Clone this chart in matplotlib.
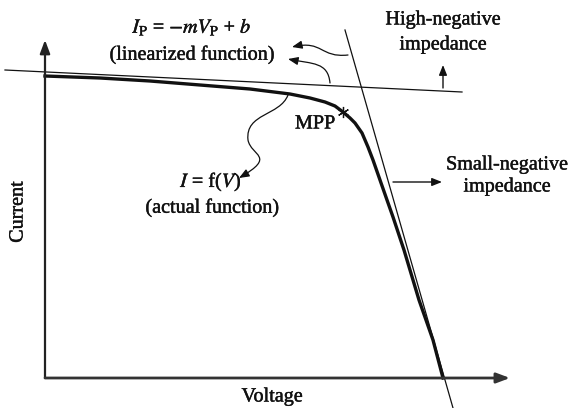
import matplotlib.pyplot as plt
import matplotlib.patheffects as pe
from matplotlib.patches import FancyArrowPatch
from matplotlib.path import Path

# I-V curve of the panel (arbitrary units, origin at the axes corner)
voltage = [0, 55, 105, 155, 205, 245, 265, 280, 290, 298, 305, 310,
           317, 323, 328, 335, 342, 348, 359, 374, 388, 398]
current = [302, 300, 297, 293, 289, 284, 280, 276, 272, 266, 260, 255,
           245, 231, 218, 198, 178, 161, 128, 78, 38, 0]

# maximum power point
mpp_v, mpp_i = 298, 266

# linearised lines: flat (high-negative) and steep (small-negative) regions
flat_v = [-40, 417]
flat_i = [308, 286]
steep_v = [300, 408]
steep_i = [348, -30]

plt.rcParams["font.family"] = ["Liberation Serif", "DejaVu Serif"]
plt.rcParams["mathtext.fontset"] = "stix"

fig = plt.figure(figsize=(5.72, 4.08), dpi=100)
ax = fig.add_axes([0, 0, 1, 1])
ax.set_xlim(-45, 527)
ax.set_ylim(-30, 378)
ax.axis("off")

ink = "#111111"
head = "-|>,head_length=0.5,head_width=0.2"

# axes with arrow heads
ax.annotate("", xy=(0, 338), xytext=(0, 0),
            arrowprops=dict(arrowstyle="-|>,head_length=0.8,head_width=0.3",
                            color="#222222", lw=1.6, shrinkA=0, shrinkB=0))
ax.annotate("", xy=(465, 0), xytext=(0, 0),
            arrowprops=dict(arrowstyle="-|>,head_length=0.8,head_width=0.3",
                            color="#333333", lw=2.0, shrinkA=0, shrinkB=0))

ax.plot(flat_v, flat_i, color=ink, lw=0.9)
ax.plot(steep_v, steep_i, color=ink, lw=0.9)
ax.plot(voltage, current, color=ink, lw=2.4, solid_joinstyle="round")
ax.plot([mpp_v], [mpp_i], marker=(6, 2, 0), ms=8, color=ink, mew=0.9)


def curly(points, codes):
    patch = FancyArrowPatch(path=Path(points, codes), arrowstyle=head,
                            mutation_scale=12, color=ink, lw=0.9)
    ax.add_patch(patch)


C = Path.CURVE4
# pointers from the two straight lines to the equation
curly([(303, 323), (275, 320), (278, 338), (247, 331)],
      [Path.MOVETO, C, C, C])
curly([(285, 295), (283, 316), (268, 314), (243, 319)],
      [Path.MOVETO, C, C, C])
# pointer from the curve to I = f(V)
curly([(243, 283), (235, 262), (200, 265), (203, 238),
       (206, 222), (232, 222), (194, 200)],
      [Path.MOVETO, C, C, C, C, C, C])

# small arrows next to the impedance labels
ax.annotate("", xy=(397, 196), xytext=(348, 196),
            arrowprops=dict(arrowstyle=head, mutation_scale=12,
                            color=ink, lw=1.0, shrinkA=0, shrinkB=0))
ax.annotate("", xy=(398, 313), xytext=(398, 290),
            arrowprops=dict(arrowstyle=head, mutation_scale=12,
                            color=ink, lw=1.0, shrinkA=0, shrinkB=0))

fs = 14.5
bold = [pe.withStroke(linewidth=0.3, foreground=ink)]


def label(x, y, s, **kw):
    ax.text(x, y, s, fontsize=fs, ha="center", va="center", color=ink,
            path_effects=bold, **kw)


label(147, 351, r"$I_\mathrm{P}$ = $-mV_\mathrm{P}$ + $b$")
label(147, 323, "(linearized function)")
label(398, 358, "High-negative")
label(398, 333, "impedance")
label(462, 213, "Small-negative")
label(462, 191, "impedance")
label(270, 254, "MPP")
label(166, 196, r"$I$ = f($V$)")
label(167, 170, "(actual function)")
label(227, -19, "Voltage")
label(-27, 166, "Current", rotation=90)

fig.savefig("out.png", dpi=100)
